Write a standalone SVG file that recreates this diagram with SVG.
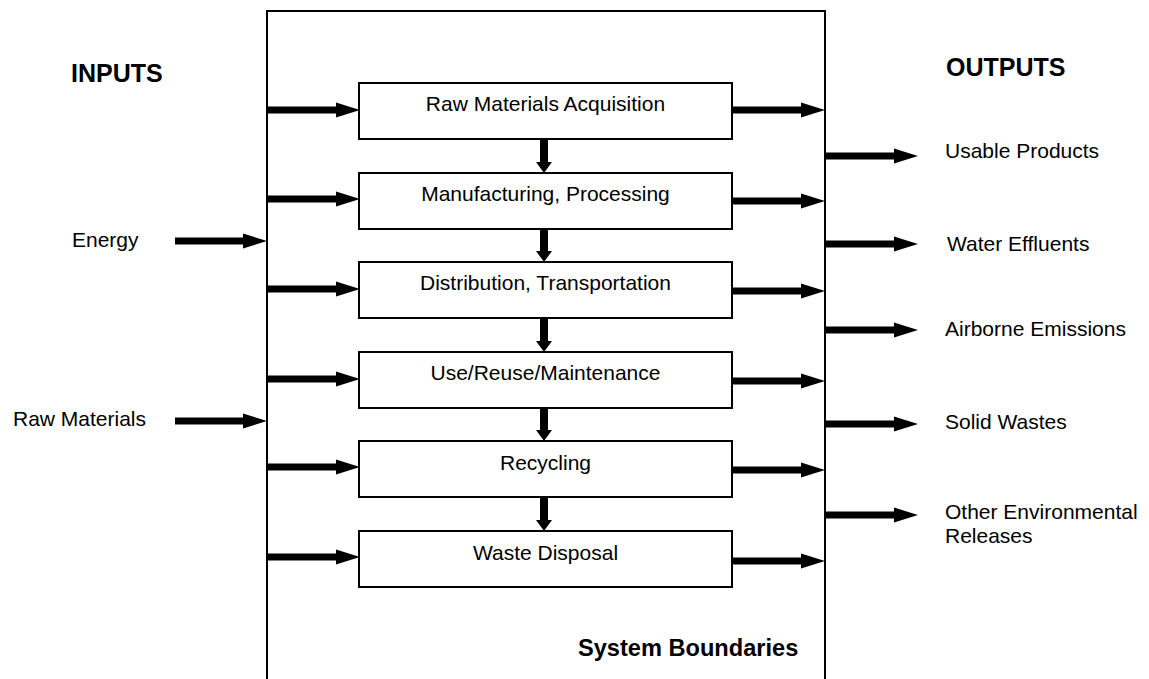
<svg xmlns="http://www.w3.org/2000/svg" width="1149" height="679" viewBox="0 0 1149 679">
  <style>
    .lbl { font-family: "Liberation Sans", Arial, sans-serif; font-size: 21px; fill: #000; }
    .mid { text-anchor: middle; }
    .head { font-family: "Liberation Sans", Arial, sans-serif; font-size: 25px; font-weight: bold; fill: #000; }
    .sb { font-family: "Liberation Sans", Arial, sans-serif; font-size: 23.6px; font-weight: bold; fill: #000; }
    .box { fill: #fff; stroke: #000; stroke-width: 2; }
    .flow { stroke: #000; stroke-width: 7; fill: none; marker-end: url(#tipH); }
    .step { stroke: #000; stroke-width: 8; fill: none; marker-end: url(#tipV); }
  </style>
  <defs>
    <marker id="tipH" markerUnits="userSpaceOnUse" markerWidth="24" markerHeight="15" refX="0" refY="7.5" orient="auto" overflow="visible">
      <path d="M0,0 L24,7.5 L0,15 z" fill="#000"/>
    </marker>
    <marker id="tipV" markerUnits="userSpaceOnUse" markerWidth="11" markerHeight="16" refX="0" refY="8" orient="auto" overflow="visible">
      <path d="M0,0 L11,8 L0,16 z" fill="#000"/>
    </marker>
  </defs>
  <rect width="1149" height="679" fill="#fff"/>

  <!-- system boundary (open at the bottom) -->
  <g id="system-boundary">
    <path d="M267,690 V11 H825 V690" fill="none" stroke="#000" stroke-width="2"/>
    <text class="sb" x="578" y="656">System Boundaries</text>
  </g>

  <!-- headings -->
  <text class="head" x="71" y="82">INPUTS</text>
  <text class="head" x="946" y="76">OUTPUTS</text>

  <!-- life-cycle stages -->
  <g id="stage-raw-materials">
    <rect class="box" x="359" y="83" width="373" height="56"/>
    <text class="lbl mid" x="545.5" y="111">Raw Materials Acquisition</text>
  </g>
  <g id="stage-manufacturing">
    <rect class="box" x="359" y="173" width="373" height="56"/>
    <text class="lbl mid" x="545.5" y="201">Manufacturing, Processing</text>
  </g>
  <g id="stage-distribution">
    <rect class="box" x="359" y="262" width="373" height="56"/>
    <text class="lbl mid" x="545.5" y="290">Distribution, Transportation</text>
  </g>
  <g id="stage-use">
    <rect class="box" x="359" y="352" width="373" height="56"/>
    <text class="lbl mid" x="545.5" y="380">Use/Reuse/Maintenance</text>
  </g>
  <g id="stage-recycling">
    <rect class="box" x="359" y="441" width="373" height="56"/>
    <text class="lbl mid" x="545.5" y="470">Recycling</text>
  </g>
  <g id="stage-disposal">
    <rect class="box" x="359" y="531" width="373" height="56"/>
    <text class="lbl mid" x="545.5" y="560">Waste Disposal</text>
  </g>

  <!-- external inputs -->
  <g id="input-energy">
    <text class="lbl" x="72" y="247">Energy</text>
  </g>
  <g id="input-raw-materials">
    <text class="lbl" x="13" y="426">Raw Materials</text>
  </g>

  <!-- external outputs -->
  <g id="output-products"><text class="lbl" x="945" y="158">Usable Products</text></g>
  <g id="output-water"><text class="lbl" x="947" y="251">Water Effluents</text></g>
  <g id="output-air"><text class="lbl" x="945" y="336">Airborne Emissions</text></g>
  <g id="output-solid"><text class="lbl" x="945" y="429">Solid Wastes</text></g>
  <g id="output-other">
    <text class="lbl" x="945" y="519">Other Environmental</text>
    <text class="lbl" x="945" y="543">Releases</text>
  </g>

  <g id="connectors">
    <!-- into the boundary -->
    <line class="flow" x1="175" y1="241" x2="243" y2="241"/>
    <line class="flow" x1="175" y1="421" x2="243" y2="421"/>
    <!-- boundary to each stage -->
    <line class="flow" x1="268" y1="110" x2="336" y2="110"/>
    <line class="flow" x1="268" y1="199" x2="336" y2="199"/>
    <line class="flow" x1="268" y1="289" x2="336" y2="289"/>
    <line class="flow" x1="268" y1="379" x2="336" y2="379"/>
    <line class="flow" x1="268" y1="467" x2="336" y2="467"/>
    <line class="flow" x1="268" y1="557" x2="336" y2="557"/>
    <!-- each stage to the boundary -->
    <line class="flow" x1="732" y1="110" x2="801" y2="110"/>
    <line class="flow" x1="732" y1="201" x2="801" y2="201"/>
    <line class="flow" x1="732" y1="291" x2="801" y2="291"/>
    <line class="flow" x1="732" y1="381" x2="801" y2="381"/>
    <line class="flow" x1="732" y1="470" x2="801" y2="470"/>
    <line class="flow" x1="732" y1="561" x2="801" y2="561"/>
    <!-- out of the boundary -->
    <line class="flow" x1="826" y1="156" x2="894" y2="156"/>
    <line class="flow" x1="826" y1="244" x2="894" y2="244"/>
    <line class="flow" x1="826" y1="330" x2="894" y2="330"/>
    <line class="flow" x1="826" y1="424" x2="894" y2="424"/>
    <line class="flow" x1="826" y1="515" x2="894" y2="515"/>
    <!-- stage to stage -->
    <line class="step" x1="544" y1="140" x2="544" y2="162"/>
    <line class="step" x1="544" y1="230" x2="544" y2="251"/>
    <line class="step" x1="544" y1="319" x2="544" y2="341"/>
    <line class="step" x1="544" y1="409" x2="544" y2="430"/>
    <line class="step" x1="544" y1="498" x2="544" y2="520"/>
  </g>
</svg>
